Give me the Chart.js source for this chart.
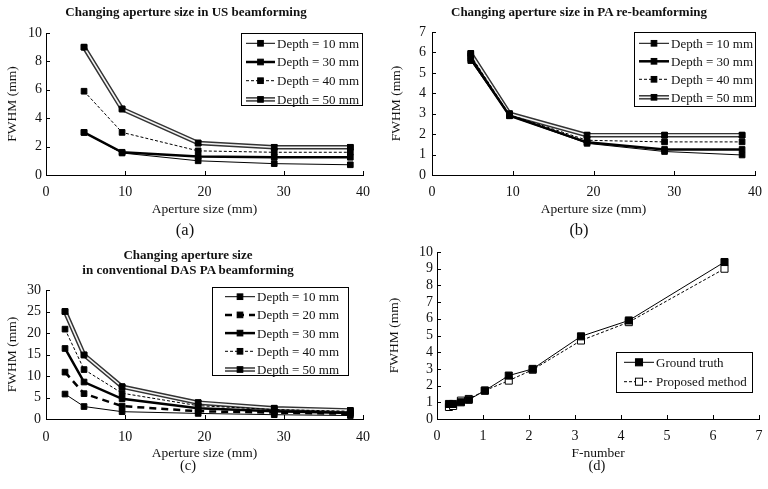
<!DOCTYPE html>
<html>
<head>
<meta charset="utf-8">
<script src="https://cdn.jsdelivr.net/npm/chart.js@4/dist/chart.umd.min.js"></script>
<style>
  body { margin: 0; background: #fff; }
  #page { position: relative; width: 768px; height: 489px; font-family: "Liberation Serif", "Times New Roman", serif; color: #111; overflow: hidden; }
  canvas { position: absolute; }
  .title { position: absolute; font-weight: bold; font-size: 13px; line-height: 14.5px; text-align: center; white-space: nowrap; transform: translateX(-50%); }
  .tag { position: absolute; font-size: 16.5px; transform: translate(-50%, -50%); }
  .tag.small { font-size: 14.5px; }
</style>
</head>
<body>
<div id="page">
  <canvas id="chartA" width="384" height="245" style="left:0;top:0"></canvas>
  <canvas id="chartB" width="384" height="245" style="left:384px;top:0"></canvas>
  <canvas id="chartC" width="384" height="244" style="left:0;top:245px"></canvas>
  <canvas id="chartD" width="384" height="244" style="left:384px;top:245px"></canvas>

  <div class="title" style="left:186px;top:5px">Changing aperture size in US beamforming</div>
  <div class="title" style="left:579px;top:5px">Changing aperture size in PA re-beamforming</div>
  <div class="title" style="left:188px;top:248px">Changing aperture size<br>in conventional DAS PA beamforming</div>

  <div class="tag" style="left:185px;top:230px">(a)</div>
  <div class="tag" style="left:579px;top:230px">(b)</div>
  <div class="tag small" style="left:188px;top:465px">(c)</div>
  <div class="tag small" style="left:597px;top:465px">(d)</div>
</div>
<script>
// (a) US beamforming
const apertureUS = [4.8, 9.6, 19.2, 28.8, 38.4];
const usDepth10 = [3.0, 1.55, 1.0, 0.8, 0.72];
const usDepth30 = [3.0, 1.6, 1.3, 1.25, 1.25];
const usDepth40 = [5.9, 3.0, 1.7, 1.6, 1.6];
const usDepth50 = [9.0, 4.65, 2.25, 1.95, 1.95];

// (b) PA re-beamforming
const aperturePA = [4.8, 9.6, 19.2, 28.8, 38.4];
const paDepth10 = [5.6, 2.9, 1.55, 1.15, 0.98];
const paDepth30 = [5.7, 2.9, 1.6, 1.25, 1.25];
const paDepth40 = [5.85, 2.95, 1.7, 1.62, 1.62];
const paDepth50 = [5.95, 3.0, 1.95, 1.95, 1.95];

// (c) conventional DAS
const apertureDAS = [2.4, 4.8, 9.6, 19.2, 28.8, 38.4];
const dasDepth10 = [5.8, 2.9, 1.7, 1.3, 1.0, 0.8];
const dasDepth20 = [10.9, 5.9, 3.0, 1.8, 1.5, 1.2];
const dasDepth30 = [16.4, 8.6, 4.7, 2.5, 1.8, 1.4];
const dasDepth40 = [20.9, 11.5, 6.0, 3.1, 2.2, 1.8];
const dasDepth50 = [25.0, 14.9, 7.5, 3.8, 2.5, 2.0];

// (d) F-number
const fNumbers = [0.26, 0.35, 0.52, 0.69, 1.04, 1.56, 2.08, 3.13, 4.17, 6.25];
const groundTruth = [0.9, 0.9, 1.0, 1.15, 1.7, 2.6, 3.0, 4.95, 5.9, 9.4];
const proposed = [0.72, 0.78, 1.1, 1.2, 1.7, 2.3, 2.95, 4.7, 5.8, 9.0];

// tick labels
const apertureTicks = [0, 10, 20, 30, 40];
const usFwhmTicks = [0, 2, 4, 6, 8, 10];
const paFwhmTicks = [0, 1, 2, 3, 4, 5, 6, 7];
const dasFwhmTicks = [0, 5, 10, 15, 20, 25, 30];
const fNumberTicks = [0, 1, 2, 3, 4, 5, 6, 7];
const fwhmTicksD = [0, 1, 2, 3, 4, 5, 6, 7, 8, 9, 10];

const serif = '"Liberation Serif", "Times New Roman", serif';
Chart.defaults.font.family = serif;
Chart.defaults.color = "#111";

const styles = {
  thin: { borderWidth: 1, borderDash: [] },
  thick: { borderWidth: 2.5, borderDash: [] },
  dashed: { borderWidth: 1, borderDash: [3, 2] },
  boldDash: { borderWidth: 2.5, borderDash: [7, 5] },
  double: { borderWidth: 4.5, borderDash: [], borderColor: "#333", doubleLine: true },
};

function series(label, xs, ys, style, fill, radius) {
  return {
    label,
    data: xs.map((x, i) => ({ x, y: ys[i] })),
    showLine: true,
    borderColor: "#000",
    pointStyle: "rect",
    pointRadius: radius || 4,
    pointHoverRadius: radius || 4,
    pointBorderWidth: 1,
    pointBorderColor: "#000",
    pointBackgroundColor: fill || "#000",
    ...style,
  };
}

// white core for the double line, then points again on top
const doubleLinePlugin = {
  id: "doubleLine",
  afterDatasetDraw(chart, args) {
    const ds = chart.data.datasets[args.index];
    if (!ds.doubleLine) return;
    const ctx = chart.ctx;
    const pts = args.meta.data;
    ctx.save();
    ctx.beginPath();
    pts.forEach((p, i) => (i ? ctx.lineTo(p.x, p.y) : ctx.moveTo(p.x, p.y)));
    ctx.strokeStyle = "#f4f4f4";
    ctx.lineWidth = 1.6;
    ctx.lineJoin = "round";
    ctx.stroke();
    pts.forEach((p) => p.draw(ctx, chart.chartArea));
    ctx.restore();
  },
};

// small tick marks pointing into the plot
const innerTicksPlugin = {
  id: "innerTicks",
  afterDraw(chart) {
    const { ctx, chartArea, scales } = chart;
    ctx.save();
    ctx.strokeStyle = "#000";
    ctx.lineWidth = 1;
    ctx.beginPath();
    scales.x.ticks.forEach((t) => {
      const px = Math.round(scales.x.getPixelForValue(t.value)) + 0.5;
      ctx.moveTo(px, chartArea.bottom);
      ctx.lineTo(px, chartArea.bottom - 4);
    });
    scales.y.ticks.forEach((t) => {
      const py = Math.round(scales.y.getPixelForValue(t.value)) + 0.5;
      ctx.moveTo(chartArea.left, py);
      ctx.lineTo(chartArea.left + 4, py);
    });
    ctx.stroke();
    ctx.restore();
  },
};

function drawSample(ctx, ds, x0, x1, y) {
  ctx.save();
  ctx.beginPath();
  ctx.moveTo(x0, y);
  ctx.lineTo(x1, y);
  ctx.strokeStyle = ds.borderColor;
  ctx.lineWidth = ds.borderWidth;
  ctx.setLineDash(ds.borderDash || []);
  ctx.stroke();
  if (ds.doubleLine) {
    ctx.beginPath();
    ctx.moveTo(x0, y);
    ctx.lineTo(x1, y);
    ctx.strokeStyle = "#f4f4f4";
    ctx.lineWidth = 1.6;
    ctx.stroke();
  }
  ctx.setLineDash([]);
  const s = ds.pointRadius * Math.SQRT1_2;
  const cx = (x0 + x1) / 2;
  ctx.fillStyle = ds.pointBackgroundColor;
  ctx.fillRect(cx - s, y - s, 2 * s, 2 * s);
  ctx.strokeStyle = "#000";
  ctx.lineWidth = 1;
  ctx.strokeRect(cx - s, y - s, 2 * s, 2 * s);
  ctx.restore();
}

const boxLegendPlugin = {
  id: "boxLegend",
  afterDraw(chart, args, o) {
    if (!o || !o.boxW) return;
    const ctx = chart.ctx;
    ctx.save();
    ctx.fillStyle = "#fff";
    ctx.fillRect(o.boxX, o.boxY, o.boxW, o.boxH);
    ctx.strokeStyle = "#000";
    ctx.lineWidth = 1;
    ctx.strokeRect(Math.round(o.boxX) + 0.5, Math.round(o.boxY) + 0.5, Math.round(o.boxW), Math.round(o.boxH));
    ctx.font = "13px " + serif;
    ctx.textBaseline = "middle";
    chart.data.datasets.forEach((ds, i) => {
      const y = o.firstRow + i * o.rowGap;
      drawSample(ctx, ds, o.sampleX0, o.sampleX1, y);
      ctx.fillStyle = "#111";
      ctx.fillText(ds.label, o.textX, y + 1);
    });
    ctx.restore();
  },
};

function makeChart(id, datasets, cfg) {
  const xTicks = cfg.xTicks;
  const yTicks = cfg.yTicks;
  return new Chart(document.getElementById(id), {
    type: "scatter",
    data: { datasets },
    options: {
      responsive: false,
      animation: false,
      layout: { padding: { left: 0, top: cfg.padT, right: cfg.padR, bottom: 0 } },
      plugins: {
        legend: { display: false },
        tooltip: { enabled: false },
        boxLegend: cfg.legend,
      },
      scales: {
        x: {
          type: "linear",
          min: xTicks[0],
          max: xTicks[xTicks.length - 1],
          afterBuildTicks: (s) => { s.ticks = xTicks.map((v) => ({ value: v })); },
          afterFit: (s) => { s.height = cfg.xH; s.paddingLeft = 0; s.paddingRight = 0; },
          grid: { display: false, drawTicks: false },
          border: { display: true, color: "#000", width: 1 },
          ticks: { font: { size: 14, lineHeight: 1 }, padding: cfg.xTickPad, maxRotation: 0, autoSkip: false },
          title: { display: true, text: cfg.xTitle, font: { size: 13.5 }, padding: { top: 0, bottom: 27 } },
        },
        y: {
          type: "linear",
          min: yTicks[0],
          max: yTicks[yTicks.length - 1],
          afterBuildTicks: (s) => { s.ticks = yTicks.map((v) => ({ value: v })); },
          afterFit: (s) => { s.width = cfg.yW; s.paddingTop = 0; s.paddingBottom = 0; },
          grid: { display: false, drawTicks: false },
          border: { display: true, color: "#000", width: 1 },
          ticks: { font: { size: 14, lineHeight: 1 }, padding: cfg.yTickPad, autoSkip: false },
          title: { display: true, text: "FWHM (mm)", font: { size: 13.5 }, padding: { top: cfg.yTitlePad, bottom: 0 } },
        },
      },
    },
    plugins: [doubleLinePlugin, innerTicksPlugin, boxLegendPlugin],
  });
}

makeChart("chartA", [
  series("Depth = 10 mm", apertureUS, usDepth10, styles.thin),
  series("Depth = 30 mm", apertureUS, usDepth30, styles.thick),
  series("Depth = 40 mm", apertureUS, usDepth40, styles.dashed),
  series("Depth = 50 mm", apertureUS, usDepth50, styles.double),
], {
  xTicks: apertureTicks, yTicks: usFwhmTicks, xTitle: "Aperture size (mm)",
  padT: 33, padR: 21, yW: 46, xH: 70, xTickPad: 10, yTickPad: 4, yTitlePad: 4,
  legend: { boxX: 241, boxY: 33, boxW: 121, boxH: 72, firstRow: 43.3, rowGap: 18.7, sampleX0: 246, sampleX1: 275, textX: 277 },
});

makeChart("chartB", [
  series("Depth = 10 mm", aperturePA, paDepth10, styles.thin),
  series("Depth = 30 mm", aperturePA, paDepth30, styles.thick),
  series("Depth = 40 mm", aperturePA, paDepth40, styles.dashed),
  series("Depth = 50 mm", aperturePA, paDepth50, styles.double),
], {
  xTicks: apertureTicks, yTicks: paFwhmTicks, xTitle: "Aperture size (mm)",
  padT: 32, padR: 13, yW: 48, xH: 70, xTickPad: 10, yTickPad: 6, yTitlePad: 4,
  legend: { boxX: 250, boxY: 32, boxW: 121, boxH: 74, firstRow: 43.3, rowGap: 18, sampleX0: 255, sampleX1: 285, textX: 287 },
});

makeChart("chartC", [
  series("Depth = 10 mm", apertureDAS, dasDepth10, styles.thin),
  series("Depth = 20 mm", apertureDAS, dasDepth20, styles.boldDash),
  series("Depth = 30 mm", apertureDAS, dasDepth30, styles.thick),
  series("Depth = 40 mm", apertureDAS, dasDepth40, styles.dashed),
  series("Depth = 50 mm", apertureDAS, dasDepth50, styles.double),
], {
  xTicks: apertureTicks, yTicks: dasFwhmTicks, xTitle: "Aperture size (mm)",
  padT: 45, padR: 21, yW: 46, xH: 70, xTickPad: 11, yTickPad: 5, yTitlePad: 4,
  legend: { boxX: 212, boxY: 42, boxW: 136, boxH: 88, firstRow: 51.7, rowGap: 18.2, sampleX0: 225, sampleX1: 255, textX: 257 },
});

makeChart("chartD", [
  series("Ground truth", fNumbers, groundTruth, styles.thin, "#000", 5),
  series("Proposed method", fNumbers, proposed, styles.dashed, "#fff", 5),
], {
  xTicks: fNumberTicks, yTicks: fwhmTicksD, xTitle: "F-number",
  padT: 7, padR: 9, yW: 53, xH: 70, xTickPad: 10, yTickPad: 4, yTitlePad: 2,
  legend: { boxX: 232, boxY: 107, boxW: 136, boxH: 40, firstRow: 117.3, rowGap: 19.4, sampleX0: 240, sampleX1: 270, textX: 272 },
});
</script>
</body>
</html>
